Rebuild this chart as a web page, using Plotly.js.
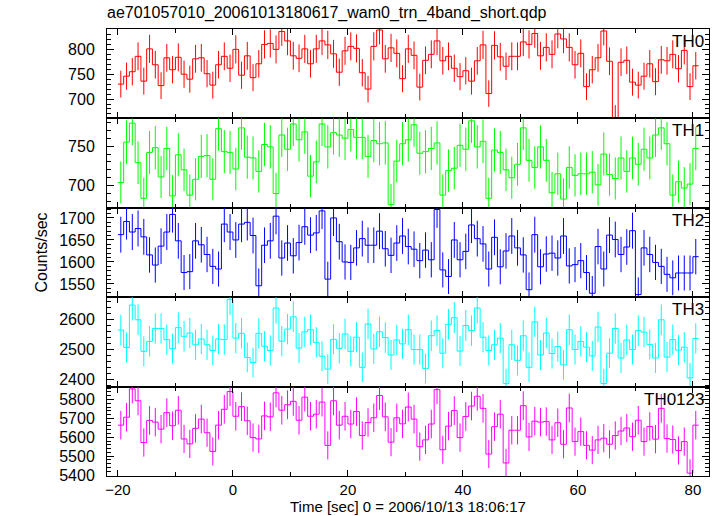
<!DOCTYPE html>
<html>
<head>
<meta charset="utf-8">
<script src="https://cdn.plot.ly/plotly-3.0.1.min.js"></script>
<style>html,body{margin:0;padding:0;background:#fff;}#chart{width:717px;height:516px;}</style>
</head>
<body>
<div id="chart"></div>
<script>
// ---- data (1-s bins starting at t = -20 s) ----
const binStart = -20;
const binWidth = 1;
const bandNames = ["TH0", "TH1", "TH2", "TH3", "TH0123"];
const bandColors = ["#ff0000", "#00ff00", "#0000ff", "#00ffff", "#ff00ff"];

const th0 = [730,746,755,786,736,801,769,727,783,759, 784,750,740,781,783,751,728,769,786,762,
  800,748,787,743,771,810,812,800,836,817, 787,782,801,771,801,817,809,791,754,797,
  806,802,753,720,806,839,781,803,792,741, 801,788,724,778,790,817,777,786,762,745,
  757,736,777,809,711,808,785,766,786,786, 815,810,832,787,804,790,831,821,804,769,
  792,725,759,783,837,776,662,774,778,734, 728,746,771,735,779,777,790,761,798,725, 767];
const th1 = [704,755,779,729,684,742,748,711,747,687, 739,720,688,708,737,738,708,772,743,742,
  721,773,736,735,718,752,749,690,764,746, 778,758,768,712,730,778,749,767,764,760,
  771,761,761,737,757,753,754,676,731,753, 758,777,741,743,747,754,688,719,722,751,
  746,782,749,756,684,745,742,720,710,727, 773,732,723,749,732,691,715,683,723,713,
  715,715,717,701,740,714,709,735,718,735, 727,746,735,764,773,753,688,705,697,702, 747];
const th2 = [1662,1692,1668,1676,1657,1616,1593,1636,1668,1708, 1648,1576,1578,1648,1639,1617,1590,1584,1686,1668,
  1650,1686,1690,1660,1546,1638,1648,1704,1609,1643, 1614,1644,1680,1661,1666,1716,1561,1700,1646,1600,
  1599,1632,1653,1638,1638,1670,1630,1615,1643,1659, 1635,1629,1603,1627,1605,1719,1582,1567,1650,1605,
  1624,1684,1653,1641,1584,1656,1589,1625,1659,1632, 1616,1537,1662,1589,1618,1620,1609,1659,1591,1594,
  1603,1576,1529,1635,1584,1661,1651,1617,1634,1671, 1526,1632,1617,1599,1590,1572,1564,1575,1575,1575, 1612];
const th3 = [2564,2506,2647,2598,2493,2526,2569,2569,2532,2502, 2572,2543,2554,2515,2534,2515,2496,2534,2532,2666,
  2537,2553,2473,2456,2553,2510,2496,2637,2527,2567, 2608,2504,2558,2565,2523,2477,2434,2533,2503,2551,
  2493,2540,2440,2584,2501,2558,2539,2481,2531,2518, 2565,2499,2499,2436,2545,2562,2487,2583,2605,2494,
  2579,2562,2637,2540,2496,2515,2537,2386,2515,2463, 2545,2440,2591,2481,2554,2486,2509,2448,2565,2499,
  2526,2507,2478,2574,2386,2487,2569,2471,2531,2499, 2562,2557,2516,2471,2598,2474,2532,2497,2507,2405, 2536];
const th0123 = [5664,5706,5856,5793,5572,5689,5680,5643,5730,5661, 5743,5591,5565,5647,5696,5624,5525,5664,5748,5842,
  5711,5762,5687,5598,5591,5713,5708,5835,5743,5772, 5790,5690,5812,5711,5722,5786,5557,5793,5664,5711,
  5670,5736,5609,5678,5703,5821,5708,5574,5703,5671, 5760,5696,5550,5586,5670,5852,5534,5659,5741,5598,
  5710,5765,5817,5753,5511,5656,5722,5464,5637,5637, 5767,5602,5685,5680,5683,5586,5677,5563,5755,5577,
  5630,5557,5532,5586,5595,5563,5609,5633,5649,5603, 5690,5577,5657,5590,5753,5593,5588,5530,5577,5410, 5664];

const xTickVals = [-20, 0, 20, 40, 60, 80];
const yTickVals = [[700,750,800],[700,750],[1550,1600,1650,1700],[2400,2500,2600],[5400,5500,5600,5700,5800]];

const series = [th0, th1, th2, th3, th0123];

// ---- build traces ----
const font = "Liberation Sans, Arial, Helvetica, sans-serif";
const traces = [];
const nP = series.length;
series.forEach((vals, k) => {
  const n = vals.length;
  const edges = [], centers = [], stepY = [], errs = [];
  for (let i = 0; i < n; i++) {
    edges.push(binStart + i * binWidth);
    centers.push(binStart + (i + 0.5) * binWidth);
    stepY.push(vals[i]);
    errs.push(Math.sqrt(vals[i] * binWidth) / binWidth); // Poisson error of rate
  }
  edges.push(binStart + n * binWidth);
  stepY.push(vals[n - 1]);
  const xa = k === 0 ? "x" : "x" + (k + 1);
  const ya = k === 0 ? "y" : "y" + (k + 1);
  traces.push({
    x: edges, y: stepY, xaxis: xa, yaxis: ya, type: "scatter", mode: "lines",
    line: {shape: "hv", color: bandColors[k], width: 1}, hoverinfo: "skip", showlegend: false
  });
  traces.push({
    x: centers, y: vals, xaxis: xa, yaxis: ya, type: "scatter", mode: "markers",
    marker: {size: 1, color: "rgba(0,0,0,0)"},
    error_y: {type: "data", array: errs, visible: true, color: bandColors[k], thickness: 1, width: 0},
    hoverinfo: "skip", showlegend: false
  });
});

const yRanges = [[661, 841], [672, 785], [1520, 1723], [2376, 2673], [5395, 5868]];
const yMinor = [10, 10, 10, 20, 20];

const layout = {
  width: 717, height: 516,
  margin: {l: 107, r: 8, t: 29, b: 40, pad: 0},
  paper_bgcolor: "#ffffff", plot_bgcolor: "#ffffff",
  font: {family: font, size: 16, color: "#000"},
  showlegend: false,
  title: {
    text: "ae701057010_20061013180617_wam0_trn_4band_short.qdp",
    x: 107 / 717, xanchor: "left", xref: "container",
    y: 1 - 12 / 516, yanchor: "middle", yref: "container",
    font: {family: font, size: 16, color: "#000"}
  },
  annotations: []
};

for (let k = 0; k < nP; k++) {
  const xs = k === 0 ? "xaxis" : "xaxis" + (k + 1);
  const ys = k === 0 ? "yaxis" : "yaxis" + (k + 1);
  const ya = k === 0 ? "y" : "y" + (k + 1);
  const top = 1 - k / nP, bot = 1 - (k + 1) / nP;
  layout[xs] = {
    anchor: ya, range: [-21.9, 82.8], matches: k === 0 ? undefined : "x",
    showline: true, linecolor: "#000", linewidth: 1, mirror: "ticks",
    ticks: "inside", ticklen: 6, tickcolor: "#000", tickwidth: 1,
    tickvals: xTickVals,
    minor: {dtick: 10, tick0: 0, ticks: "inside", ticklen: 4, tickcolor: "#000", showgrid: false},
    showgrid: false, zeroline: false,
    showticklabels: k === nP - 1,
    tickfont: {family: font, size: 15, color: "#000"},
    ticklabelstandoff: 0
  };
  layout[ys] = {
    domain: [bot, top], anchor: k === 0 ? "x" : "x" + (k + 1),
    range: yRanges[k],
    showline: true, linecolor: "#000", linewidth: 1, mirror: "ticks",
    ticks: "inside", ticklen: 7, tickcolor: "#000", tickwidth: 1,
    tickvals: yTickVals[k],
    minor: {dtick: yMinor[k], tick0: 0, ticks: "inside", ticklen: 4, tickcolor: "#000", showgrid: false},
    showgrid: false, zeroline: false,
    tickfont: {family: font, size: 16, color: "#000"},
    ticklabelstandoff: 8
  };
  layout.annotations.push({
    text: bandNames[k], xref: "paper", x: 1, xanchor: "right", xshift: -3,
    yref: ya + " domain", y: 1, yanchor: "top", yshift: -1,
    showarrow: false, font: {family: font, size: 17, color: "#000"}
  });
}
layout.annotations.push({
  text: "Counts/sec", textangle: -90, xref: "paper", x: 0, xanchor: "center", xshift: -66,
  yref: "paper", y: 0.5, yanchor: "middle", showarrow: false,
  font: {family: font, size: 16, color: "#000"}
});
layout.annotations.push({
  text: "Time [sec] 0 = 2006/10/13 18:06:17", xref: "paper", x: 0.5, xanchor: "center",
  yref: "paper", y: 0, yanchor: "top", yshift: -20, showarrow: false,
  font: {family: font, size: 15, color: "#000"}
});

Plotly.newPlot("chart", traces, layout, {staticPlot: true, displayModeBar: false});
</script>
</body>
</html>
